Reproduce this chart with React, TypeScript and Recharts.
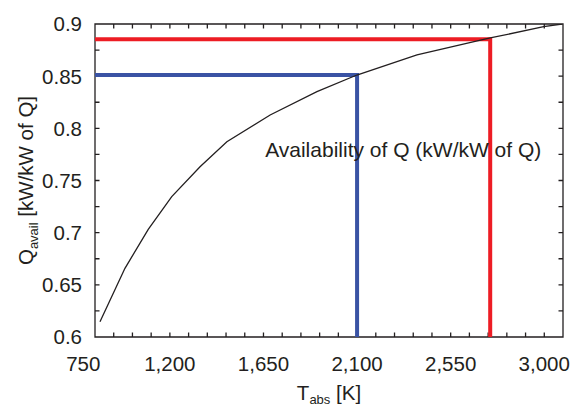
import React from "react";
import { LineChart, Line, XAxis, YAxis, ReferenceDot, ReferenceArea } from "recharts";

// availability curve (T in K, Q in kW/kW of Q)
const tempK = [864, 984, 1096, 1209, 1345, 1474, 1682, 1907, 2099, 2388, 2740, 2997, 3085];
const qAvail = [0.6147, 0.6658, 0.7032, 0.7345, 0.7632, 0.7872, 0.8128, 0.8351, 0.8511, 0.8703, 0.8866, 0.8974, 0.9];

// the two marked operating points
const blueT = 2100;
const blueQ = 0.851;
const redT = 2740;
const redQ = 0.8855;

const xDomain = [840, 3090];
const yDomain = [0.6, 0.9];
const xTickValues = [750, 1200, 1650, 2100, 2550, 3000];
const xTickLabels = ["750", "1,200", "1,650", "2,100", "2,550", "3,000"];
const yTickValues = [0.6, 0.65, 0.7, 0.75, 0.8, 0.85, 0.9];
const yTickLabels = ["0.6", "0.65", "0.7", "0.75", "0.8", "0.85", "0.9"];
const xMinorStep = 90;
const yMinorStep = 0.025;

const annotationText = "Availability of Q (kW/kW of Q)";
const annotationT = 1658;
const annotationQ = 0.7722;

const INK = "#231f20";
const FONT = "'Liberation Sans', Arial, Helvetica, sans-serif";
const TICK = 4.5;

// tick marks strictly inside the frame
const xMinor: number[] = [];
for (let v = xDomain[0] + xMinorStep; v < xDomain[1] - 1; v += xMinorStep) xMinor.push(v);
const yMinor: number[] = [];
for (let k = 1; yDomain[0] + k * yMinorStep < yDomain[1] - 1e-6; k++) {
  yMinor.push(Math.round((yDomain[0] + k * yMinorStep) * 1000) / 1000);
}

const curveData = tempK.map((t, i) => ({ t, q: qAvail[i] }));
const blueData = [
  { t: xDomain[0], q: blueQ },
  { t: blueT, q: blueQ },
  { t: blueT, q: yDomain[0] },
];
const redData = [
  { t: xDomain[0], q: redQ },
  { t: redT, q: redQ },
  { t: redT, q: yDomain[0] },
];

const findY = (v: number) => yTickValues.findIndex((t) => Math.abs(t - v) < 1e-6);

const BottomTick = (props: any) => {
  const { x, y, payload } = props;
  const v = payload.value;
  const idx = xTickValues.indexOf(v);
  if (idx < 0) return <g />;
  return (
    <text x={x} y={y + 34} dx={v < xDomain[0] ? 7 : 0} textAnchor="middle" fontSize={20.5} fontFamily={FONT} fill={INK}>
      {xTickLabels[idx]}
    </text>
  );
};

const LeftTick = (props: any) => {
  const { x, y, payload } = props;
  const idx = findY(payload.value);
  if (idx < 0) return <g />;
  return (
    <text x={x - 13} y={y} dy="0.36em" textAnchor="end" fontSize={20.5} fontFamily={FONT} fill={INK}>
      {yTickLabels[idx]}
    </text>
  );
};

const XTitle = ({ viewBox }: any) => {
  const cx = viewBox.x + viewBox.width / 2;
  const by = viewBox.y + 63;
  return (
    <text x={cx} y={by} textAnchor="middle" fontFamily={FONT} fill={INK} fontSize={20.5} style={{ whiteSpace: "pre" }}>
      <tspan>T</tspan>
      <tspan fontSize={13} dy={4}>abs</tspan>
      <tspan dy={-4}> [K]</tspan>
    </text>
  );
};

const YTitle = ({ viewBox }: any) => {
  const cx = viewBox.x + 33;
  const cy = viewBox.y + viewBox.height / 2;
  return (
    <text x={cx} y={cy} transform={`rotate(-90, ${cx}, ${cy})`} textAnchor="middle" fontFamily={FONT} fill={INK} fontSize={20.5} style={{ whiteSpace: "pre" }}>
      <tspan>Q</tspan>
      <tspan fontSize={13} dy={5}>avail</tspan>
      <tspan dy={-5}> [kW/kW of Q]</tspan>
    </text>
  );
};

const Annotation = ({ viewBox }: any) => (
  <text x={viewBox.x} y={viewBox.y} fontFamily={FONT} fontSize={21} fill={INK}>
    {annotationText}
  </text>
);

// plot frame with inward ticks on all four sides
const FrameWithTicks = (p: any) => {
  const { x, y, width, height } = p;
  const sx = (v: number) => x + ((v - xDomain[0]) / (xDomain[1] - xDomain[0])) * width;
  const sy = (v: number) => y + height - ((v - yDomain[0]) / (yDomain[1] - yDomain[0])) * height;
  let d = `M${x},${y}H${x + width}V${y + height}H${x}Z`;
  xMinor.forEach((v) => {
    const px = sx(v);
    d += `M${px},${y + height}v${-TICK}M${px},${y}v${TICK}`;
  });
  yMinor.forEach((v) => {
    const py = sy(v);
    d += `M${x},${py}h${TICK}M${x + width},${py}h${-TICK}`;
  });
  return <path d={d} fill="none" stroke={INK} strokeWidth={1.3} />;
};

export default function App() {
  return (
    <div style={{ position: "fixed", left: 0, top: 0, width: 582, height: 407, background: "#fff" }}>
      <LineChart width={582} height={407} margin={{ top: 24, right: 19, bottom: 0, left: 0 }}>
        <XAxis dataKey="t" type="number" domain={xDomain} allowDataOverflow ticks={xTickValues} interval={0} height={70}
          tickSize={0} tickMargin={0} tickLine={false} axisLine={false}
          tick={(p: any) => <BottomTick {...p} />} label={(p: any) => <XTitle viewBox={p.viewBox} />} />
        <YAxis type="number" domain={yDomain} allowDataOverflow ticks={yTickValues} interval={0} width={95}
          tickSize={0} tickMargin={0} tickLine={false} axisLine={false}
          tick={(p: any) => <LeftTick {...p} />} label={(p: any) => <YTitle viewBox={p.viewBox} />} />
        <ReferenceArea x1={xDomain[0]} x2={xDomain[1]} y1={yDomain[0]} y2={yDomain[1]} fill="none" fillOpacity={0}
          stroke={INK} strokeWidth={1.3} ifOverflow="visible" shape={FrameWithTicks} />
        <Line data={redData} dataKey="q" type="linear" stroke="#ed1c24" strokeWidth={4} strokeLinejoin="miter" dot={false} isAnimationActive={false} />
        <Line data={blueData} dataKey="q" type="linear" stroke="#3a53a4" strokeWidth={4} strokeLinejoin="miter" dot={false} isAnimationActive={false} />
        <Line data={curveData} dataKey="q" type="linear" stroke={INK} strokeWidth={1.3} dot={false} isAnimationActive={false} />
        <ReferenceDot x={annotationT} y={annotationQ} r={0} fill="none" stroke="none"
          label={(p: any) => <Annotation viewBox={p.viewBox} />} />
      </LineChart>
    </div>
  );
}
